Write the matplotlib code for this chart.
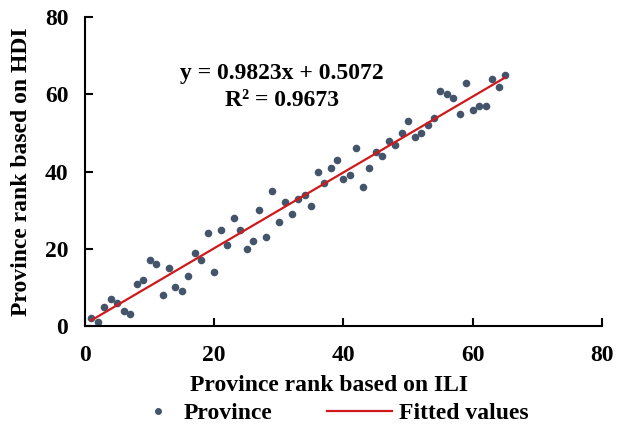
import numpy as np
import matplotlib
matplotlib.use("Agg")
import matplotlib.pyplot as plt
from matplotlib.lines import Line2D
from matplotlib.legend_handler import HandlerBase

# province ranks
ili_rank = list(range(1, 66))
hdi_rank = [2, 1, 5, 7, 6, 4, 3, 11, 12, 17, 16, 8, 15, 10, 9, 13, 19, 17, 24, 14,
            25, 21, 28, 25, 20, 22, 30, 23, 35, 27, 32, 29, 33, 34, 31, 40, 37, 41, 43, 38,
            39, 46, 36, 41, 45, 44, 48, 47, 50, 53, 49, 50, 52, 54, 61, 60, 59, 55, 63, 56,
            57, 57, 64, 62, 65]

slope = 0.9823
intercept = 0.5072
r2 = 0.9673

xticks = [0, 20, 40, 60, 80]
yticks = [0, 20, 40, 60, 80]

dot_color = "#44546A"
line_color = "#D0191B"


class MarkerRight(HandlerBase):
    # excel-like legend: the dot sits near the label, not centred in the handle box
    def create_artists(self, legend, orig_handle, xdescent, ydescent,
                       width, height, fontsize, trans):
        m = Line2D([0.72 * width - xdescent], [height / 2 - ydescent], marker="o",
                   ls="", color=dot_color, markersize=4, transform=trans)
        return [m]


plt.rcParams["font.family"] = ["Liberation Serif", "DejaVu Serif"]
plt.rcParams["font.weight"] = "bold"

fig = plt.figure(figsize=(6.2, 4.29), dpi=100)
ax = fig.add_axes([0.137, 0.240, 0.834, 0.720])

ax.scatter(ili_rank, hdi_rank, s=30, color=dot_color, zorder=2, linewidths=0)
fx = np.array([min(ili_rank), max(ili_rank)])
ax.plot(fx, slope * fx + intercept, color=line_color, lw=1.6, zorder=3)

ax.text(30.5, 65.5, f"y = {slope}x + {intercept}", ha="center", va="center",
        fontsize=17, fontweight="bold")
ax.text(30.5, 58.3, f"R² = {r2}", ha="center", va="center",
        fontsize=17, fontweight="bold")

ax.set_xlim(0, 80)
ax.set_ylim(0, 80)
ax.set_xticks(xticks)
ax.set_yticks(yticks)
ax.tick_params(direction="in", length=6, width=1.5, labelsize=17)
ax.tick_params(axis="x", pad=14)
ax.tick_params(axis="y", pad=12)
for lbl in ax.get_xticklabels() + ax.get_yticklabels():
    lbl.set_fontweight("bold")
for side in ["top", "right"]:
    ax.spines[side].set_visible(False)
for side in ["left", "bottom"]:
    ax.spines[side].set_linewidth(1.5)

ax.set_xlabel("Province rank based on ILI", fontsize=17, fontweight="bold",
              labelpad=6, x=0.472)
ax.set_ylabel("Province rank based on HDI", fontsize=17, fontweight="bold", labelpad=9)

dot_handle = Line2D([], [], marker="o", ls="", color=dot_color, markersize=4)
line_handle = Line2D([], [], color=line_color, lw=1.6)
fig.legend([dot_handle, line_handle], ["Province", "Fitted values"], loc="center", ncol=2,
           bbox_to_anchor=(0.516, 0.037), frameon=False, fontsize=17,
           handlelength=2.75, columnspacing=2.3, handletextpad=0.3,
           handler_map={dot_handle: MarkerRight()})

fig.savefig("out.png", dpi=100)
